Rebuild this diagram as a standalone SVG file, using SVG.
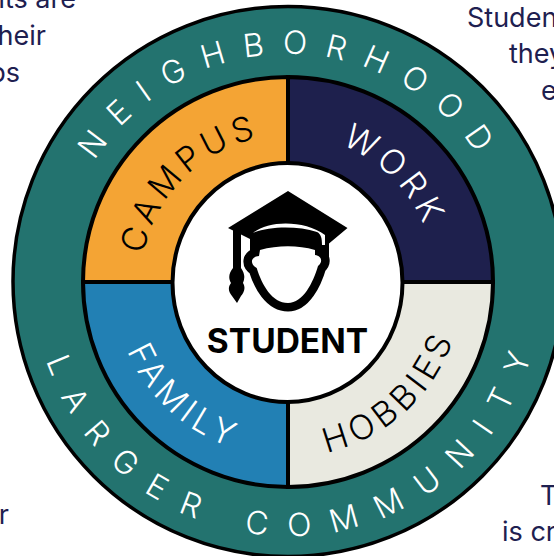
<svg xmlns="http://www.w3.org/2000/svg" width="554" height="556" viewBox="0 0 554 556">
<style>
text{font-family:Inter,"Liberation Sans",sans-serif}
.side{font-size:27px;fill:#1e2050}
.ring{font-size:34px;font-weight:300;letter-spacing:5px;text-anchor:middle}
.outer{font-size:32px;font-weight:300;fill:#fff;text-anchor:middle}
.seg{stroke:#000;stroke-width:4}
</style>
<defs>
<path id="pCampus" d="M141 282A147 147 0 0 1 288 135"/>
<path id="pWork" d="M288 135A147 147 0 0 1 435 282"/>
<path id="pFamily" d="M113 282A175 175 0 0 0 288 457"/>
<path id="pHobbies" d="M288 457A175 175 0 0 0 463 282"/>
<path id="pTop" d="M60 282A228 228 0 0 1 516 282"/>
<path id="pBottom" d="M34 282A254 254 0 0 0 542 282"/>
</defs>
<g id="side-text">
<text class="side" x="76" y="8" text-anchor="end">nts are</text>
<text class="side" x="46" y="45" text-anchor="end">heir</text>
<text class="side" x="20" y="82" text-anchor="end">bs</text>
<text class="side" x="467" y="27">Studen</text>
<text class="side" x="509" y="63">they</text>
<text class="side" x="541" y="100">e</text>
<text class="side" x="9" y="524" text-anchor="end">r</text>
<text class="side" x="540" y="505">T</text>
<text class="side" x="502" y="541">is cr</text>
</g>
<g id="community">
<circle cx="288" cy="281.500" r="275" fill="#23736f" stroke="#000" stroke-width="3.500"/>
<text class="outer" letter-spacing="17.500"><textPath href="#pTop" startOffset="50.600%">NEIGHBORHOOD</textPath></text>
<text class="outer" letter-spacing="20.500"><textPath href="#pBottom" startOffset="51.600%">LARGER COMMUNITY</textPath></text>
</g>
<g id="campus">
<path class="seg" fill="#f4a434" d="M288 282H83A205 205 0 0 1 288 77Z"/>
<text class="ring" fill="#000"><textPath href="#pCampus" startOffset="50%">CAMPUS</textPath></text>
</g>
<g id="work">
<path class="seg" fill="#1e204d" d="M288 282V77A205 205 0 0 1 493 282Z"/>
<text class="ring" fill="#fff"><textPath href="#pWork" startOffset="50%">WORK</textPath></text>
</g>
<g id="family">
<path class="seg" fill="#2280b4" d="M288 282H83A205 205 0 0 0 288 487Z"/>
<text class="ring" fill="#fff"><textPath href="#pFamily" startOffset="52.900%">FAMILY</textPath></text>
</g>
<g id="hobbies">
<path class="seg" fill="#e9e9e0" d="M288 282V487A205 205 0 0 0 493 282Z"/>
<text class="ring" fill="#000"><textPath href="#pHobbies" startOffset="47.100%">HOBBIES</textPath></text>
</g>
<g id="student">
<ellipse cx="287.500" cy="282.500" rx="115" ry="119.500" fill="#fff" stroke="#000" stroke-width="4"/>
<path d="M288 191L347.500 228L329 243.500V258H250V239L228 228Z" fill="#000"/>
<path d="M233 228H241V268C245 274 245 278 243 283C246 288 244 292 241 296L237 303L232 296C228 291 228 287 231 283C228 278 229 273 233 268Z" fill="#000"/>
<path d="M241 241.500L250 248L241 257Z" fill="#fff"/>
<path id="face" d="M260 250C278 245 298 245 315 250V255C322 256 323 262 318 266C313 283 303 303 288 303C272 303 262 285 256.700 268C250 264 250 257 259 256Z" fill="#000" stroke="#000" stroke-width="17" stroke-linejoin="round"/>
<path d="M260 250C278 245 298 245 315 250V255C322 256 323 262 318 266C313 283 303 303 288 303C272 303 262 285 256.700 268C250 264 250 257 259 256Z" fill="#fff"/>
<path d="M253 233C268 220 305 220 325 235V245H322C322 238 321 234 317 232C298 226 270 226 253 233Z" fill="#fff"/>
<text x="287.500" y="353" text-anchor="middle" font-size="33.500" font-weight="700" fill="#000">STUDENT</text>
</g>
</svg>
